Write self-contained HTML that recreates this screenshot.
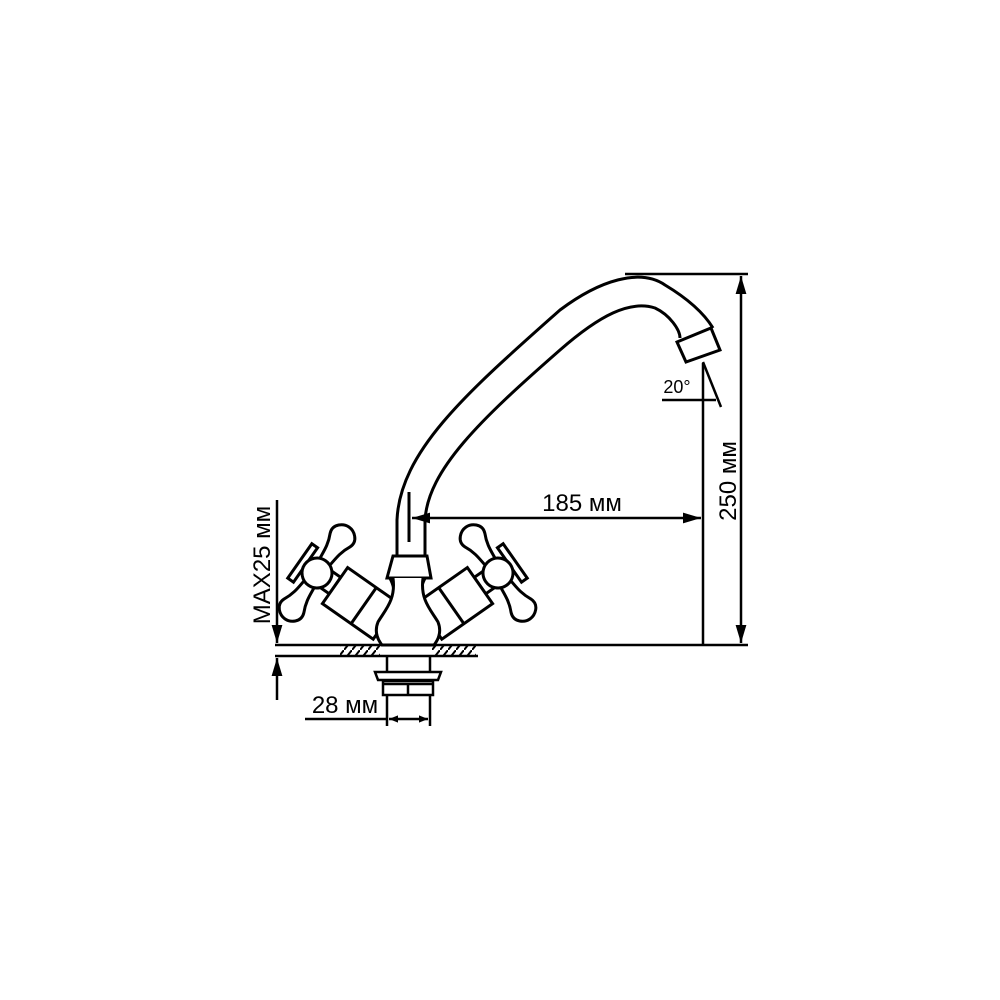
<!DOCTYPE html>
<html><head><meta charset="utf-8"><style>
body{margin:0;background:#fff}
svg{display:block}
text{font-family:"Liberation Sans",sans-serif;fill:#000}
</style></head><body>
<svg width="1000" height="1000" viewBox="0 0 1000 1000" xmlns="http://www.w3.org/2000/svg">
<defs>
<marker id="a" viewBox="0 0 10 10" refX="10" refY="5" markerWidth="9" markerHeight="9" markerUnits="userSpaceOnUse" orient="auto-start-reverse"><path d="M0,1 L10,5 L0,9 z" fill="#000"/></marker>
<marker id="b" viewBox="0 0 10 10" refX="10" refY="5" markerWidth="18" markerHeight="18" markerUnits="userSpaceOnUse" orient="auto-start-reverse"><path d="M0,2 L10,5 L0,8 z" fill="#000"/></marker>
<pattern id="h" width="8" height="10" patternUnits="userSpaceOnUse"><path d="M0,10 L8,0" stroke="#000" stroke-width="2"/></pattern>
<g id="hd">
 <path d="M383,615 C395,605 398,590 388,575" fill="none" stroke="#000" stroke-width="3"/>
 <g transform="translate(317,573) rotate(35)">
  <path d="M-6,-13 C-7,-22 -7,-30 -12,-40 C-16,-50 -6,-56 0,-56 C6,-56 16,-50 12,-40 C7,-30 7,-22 6,-13" fill="#fff" stroke="#000" stroke-width="3"/>
  <path d="M-6,13 C-7,22 -7,30 -12,40 C-16,50 -6,56 0,56 C6,56 16,50 12,40 C7,30 7,22 6,13" fill="#fff" stroke="#000" stroke-width="3"/>
  <rect x="-21" y="-21" width="7" height="42" fill="#fff" stroke="#000" stroke-width="3"/>
  <rect x="12" y="-10" width="10" height="20" fill="#fff" stroke="#000" stroke-width="3"/>
  <rect x="22" y="-22" width="62" height="44" fill="#fff" stroke="#000" stroke-width="3"/>
  <line x1="57" y1="-22" x2="57" y2="22" stroke="#000" stroke-width="3"/>
  <circle cx="0" cy="0" r="15" fill="#fff" stroke="#000" stroke-width="3"/>
 </g>
</g>
</defs>
<g fill="none" stroke="#000" stroke-width="3">
 <path d="M397,555 L397,520 C400,450 470,390 560,310 C600,280 640,268 665,285 C690,300 705,315 713,328"/>
 <path d="M425,555 L425,520 C428,470 480,420 560,350 C600,315 630,300 655,308 C670,315 680,330 680,338"/>
 <line x1="409" y1="492" x2="409" y2="542"/>
 <path d="M677,342 L711,328 L720,350 L686,362 Z" fill="#fff"/>
</g>
<use href="#hd"/>
<use href="#hd" transform="translate(815,0) scale(-1,1)"/>
<g fill="none" stroke="#000" stroke-width="3">
 <path d="M387,578 L393,556 L427,556 L431,578 Z" fill="#fff"/>
 <path d="M393,578 C396,600 385,610 378,622 C374,632 378,640 382,645 L434,645 C438,640 442,632 438,622 C431,610 420,600 423,578" fill="#fff"/>
</g>
<g fill="none" stroke="#000" stroke-width="2.5">
 <rect x="340" y="646" width="40" height="10" fill="url(#h)" stroke="none"/>
 <rect x="432" y="646" width="44" height="10" fill="url(#h)" stroke="none"/>
 <line x1="275" y1="645" x2="748" y2="645"/>
 <line x1="275" y1="656" x2="478" y2="656"/>
 <path d="M387,656 L387,672 M430,656 L430,672"/>
 <path d="M375,672 L441,672 L438,680 L378,680 Z" fill="#fff"/>
 <rect x="383" y="681" width="50" height="14"/>
 <line x1="383" y1="684" x2="433" y2="684"/>
 <line x1="408" y1="684" x2="408" y2="695"/>
 <path d="M387,695 L387,726 M430,695 L430,726"/>
 <line x1="305" y1="719" x2="387" y2="719"/>
 <line x1="389" y1="719" x2="428" y2="719" marker-start="url(#a)" marker-end="url(#a)"/>
 <line x1="277" y1="500" x2="277" y2="643" marker-end="url(#b)"/>
 <line x1="277" y1="700" x2="277" y2="658" marker-end="url(#b)"/>
 <line x1="412" y1="518" x2="701" y2="518" marker-start="url(#b)" marker-end="url(#b)"/>
 <line x1="625" y1="274" x2="748" y2="274"/>
 <line x1="741" y1="276" x2="741" y2="643" marker-start="url(#b)" marker-end="url(#b)"/>
 <line x1="703" y1="363" x2="703" y2="645"/>
 <line x1="703" y1="362" x2="721" y2="407"/>
 <line x1="662" y1="400" x2="716" y2="400"/>
</g>
<text x="582" y="511" font-size="24" text-anchor="middle">185 мм</text>
<text x="677" y="393" font-size="18" text-anchor="middle">20°</text>
<text x="345" y="713" font-size="24" text-anchor="middle">28 мм</text>
<text transform="translate(736,481) rotate(-90)" font-size="24" text-anchor="middle">250 мм</text>
<text transform="translate(270,565) rotate(-90)" font-size="24" text-anchor="middle">MAX25 мм</text>
</svg>
</body></html>
